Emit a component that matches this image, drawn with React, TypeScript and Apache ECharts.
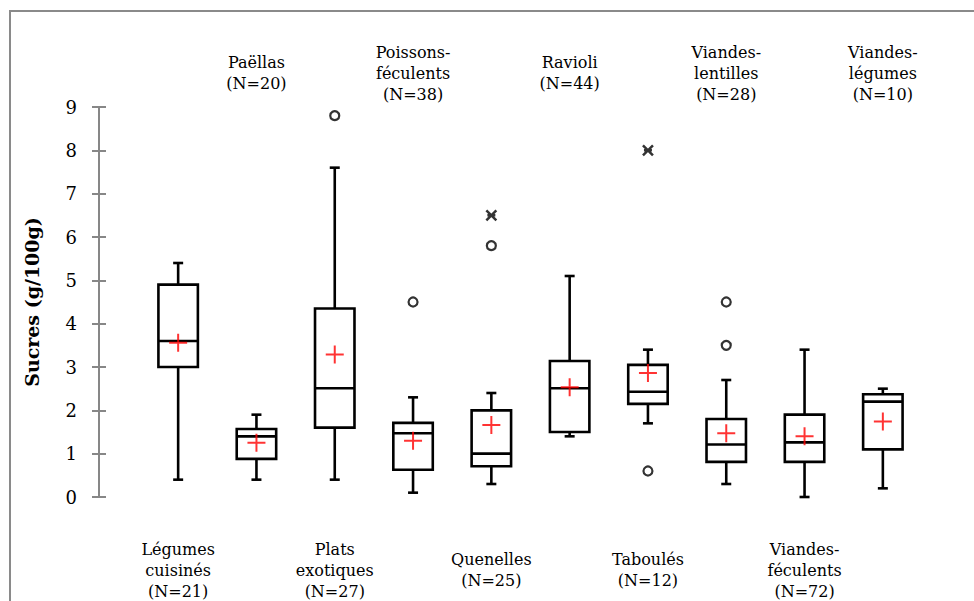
import React, { useEffect, useRef } from "react";
import * as echarts from "echarts";

// ---- data ----
const names = [
  "Légumes\ncuisinés",
  "Paëllas",
  "Plats\nexotiques",
  "Poissons-\nféculents",
  "Quenelles",
  "Ravioli",
  "Taboulés",
  "Viandes-\nlentilles",
  "Viandes-\nféculents",
  "Viandes-\nlégumes",
];
const counts = [21, 20, 27, 38, 25, 44, 12, 28, 72, 10];
const whiskerLow = [0.4, 0.4, 0.4, 0.1, 0.3, 1.4, 1.7, 0.3, 0.0, 0.2];
const q1 = [3.0, 0.88, 1.6, 0.63, 0.71, 1.5, 2.15, 0.81, 0.81, 1.1];
const median = [3.6, 1.4, 2.51, 1.47, 1.0, 2.51, 2.43, 1.21, 1.26, 2.2];
const q3 = [4.9, 1.57, 4.35, 1.71, 2.0, 3.14, 3.05, 1.8, 1.9, 2.37];
const whiskerHigh = [5.4, 1.9, 7.6, 2.3, 2.4, 5.1, 3.4, 2.7, 3.4, 2.5];
const means = [3.56, 1.25, 3.29, 1.3, 1.66, 2.53, 2.86, 1.47, 1.4, 1.74];
// outliers: [category index, value]
const outliersCircle = [
  [2, 8.8],
  [3, 4.5],
  [4, 5.8],
  [6, 0.6],
  [7, 4.5],
  [7, 3.5],
];
const outliersExtreme = [
  [4, 6.5],
  [6, 8.0],
];
const yTicks = [0, 1, 2, 3, 4, 5, 6, 7, 8, 9];
// small vertical nudges of each category label (px, + = down)
const labelShift = [1, -5, -4, 0, -2, 4, 3, 0, -7, -4];

const labels = names.map((n, i) => `${n}\n(N=${counts[i]})`);

const AXIS_GREY = "#878787";
const SERIF = "'DejaVu Serif', 'Liberation Serif', serif";

export default function App() {
  const ref = useRef<HTMLDivElement>(null);

  useEffect(() => {
    if (!ref.current) return;
    const chart = echarts.init(ref.current, undefined, { renderer: "svg" });

    const boxData = names.map((_, i) => [
      i,
      whiskerLow[i],
      q1[i],
      median[i],
      q3[i],
      whiskerHigh[i],
    ]);

    const labelStyle = {
      verticalAlign: "middle",
      lineHeight: 21,
      fontFamily: SERIF,
      fontSize: 16,
      color: "#000",
    };

    const catData = labels.map((l, i) => {
      const s = labelShift[i];
      return {
        value: l,
        textStyle: {
          ...labelStyle,
          padding: s >= 0 ? [2 * s, 0, 0, 0] : [0, 0, -2 * s, 0],
        },
      };
    });

    const option: any = {
      animation: false,
      backgroundColor: "#ffffff",
      graphic: [
        {
          type: "rect",
          shape: { x: 10, y: 11, width: 1200, height: 1000 },
          style: { fill: "none", stroke: "#8a8a8a", lineWidth: 2 },
          silent: true,
          z: -1,
        },
      ],
      grid: {
        left: 139,
        right: 52,
        top: 107,
        height: 390,
        containLabel: false,
        outerBoundsMode: "none",
      },
      xAxis: [
        {
          type: "category",
          data: catData,
          position: "bottom",
          axisLine: { show: false },
          axisTick: { show: false },
          axisLabel: {
            ...labelStyle,
            interval: (i: number) => i % 2 === 0,
            margin: 73,
          },
        },
        {
          type: "category",
          data: catData,
          position: "top",
          axisLine: { show: false },
          axisTick: { show: false },
          axisLabel: {
            ...labelStyle,
            interval: (i: number) => i % 2 === 1,
            margin: 34,
          },
        },
      ],
      yAxis: [
        {
          type: "value",
          min: yTicks[0],
          max: yTicks[yTicks.length - 1],
          interval: 1,
          offset: 40,
          name: "Sucres (g/100g)",
          nameLocation: "middle",
          nameGap: 58,
          nameTextStyle: {
            fontFamily: SERIF,
            fontWeight: "bold",
            fontSize: 19,
            color: "#000",
          },
          axisLine: { show: true, lineStyle: { color: AXIS_GREY, width: 2 } },
          axisTick: {
            show: true,
            length: 7,
            lineStyle: { color: AXIS_GREY, width: 2 },
          },
          axisLabel: {
            margin: 22,
            fontFamily: SERIF,
            fontSize: 18,
            color: "#000",
          },
          splitLine: { show: false },
        },
        {
          type: "value",
          min: yTicks[0],
          max: yTicks[yTicks.length - 1],
          interval: 1,
          offset: 40,
          position: "left",
          axisLine: { show: false },
          axisTick: {
            show: true,
            inside: true,
            length: 7,
            lineStyle: { color: AXIS_GREY, width: 2 },
          },
          axisLabel: { show: false },
          splitLine: { show: false },
        },
      ],
      series: [
        {
          type: "custom",
          xAxisIndex: 0,
          yAxisIndex: 0,
          data: boxData,
          encode: { x: 0, y: [1, 2, 3, 4, 5] },
          renderItem: (params: any, api: any) => {
            const idx = api.value(0);
            const pLo = api.coord([idx, api.value(1)]);
            const pQ1 = api.coord([idx, api.value(2)]);
            const pMed = api.coord([idx, api.value(3)]);
            const pQ3 = api.coord([idx, api.value(4)]);
            const pHi = api.coord([idx, api.value(5)]);
            const band = api.size([1, 0])[0];
            const cx = pMed[0];
            const hw = band * 0.252;
            const cap = 5;
            const st = { stroke: "#000", lineWidth: 2.6, fill: "none" };
            return {
              type: "group",
              children: [
                {
                  type: "line",
                  shape: { x1: cx, y1: pQ3[1], x2: cx, y2: pHi[1] },
                  style: st,
                },
                {
                  type: "line",
                  shape: { x1: cx, y1: pQ1[1], x2: cx, y2: pLo[1] },
                  style: st,
                },
                {
                  type: "line",
                  shape: { x1: cx - cap, y1: pHi[1], x2: cx + cap, y2: pHi[1] },
                  style: st,
                },
                {
                  type: "line",
                  shape: { x1: cx - cap, y1: pLo[1], x2: cx + cap, y2: pLo[1] },
                  style: st,
                },
                {
                  type: "rect",
                  shape: {
                    x: cx - hw,
                    y: pQ3[1],
                    width: hw * 2,
                    height: pQ1[1] - pQ3[1],
                  },
                  style: { stroke: "#000", lineWidth: 2.6, fill: "#fff" },
                },
                {
                  type: "line",
                  shape: { x1: cx - hw, y1: pMed[1], x2: cx + hw, y2: pMed[1] },
                  style: st,
                },
              ],
            };
          },
          z: 2,
        },
        {
          type: "scatter",
          data: means.map((m, i) => [i, m]),
          symbol: "path://M0,9L18,9M9,0L9,18",
          symbolSize: 18,
          itemStyle: { color: "none", borderColor: "#ff0000", borderWidth: 2 },
          z: 5,
        },
        {
          type: "scatter",
          data: outliersCircle,
          symbol: "circle",
          symbolSize: 9,
          itemStyle: { color: "#fff", borderColor: "#000", borderWidth: 2.2 },
          z: 4,
        },
        {
          type: "scatter",
          data: outliersExtreme,
          symbol: "path://M0,0L10,10M10,0L0,10M1,5L9,5",
          symbolSize: 10,
          itemStyle: { color: "none", borderColor: "#000", borderWidth: 2.5 },
          z: 4,
        },
      ],
    };

    chart.setOption(option);
    return () => chart.dispose();
  }, []);

  return (
    <div
      ref={ref}
      style={{
        position: "absolute",
        left: 0,
        top: 0,
        width: 974,
        height: 601,
        background: "#fff",
      }}
    />
  );
}
